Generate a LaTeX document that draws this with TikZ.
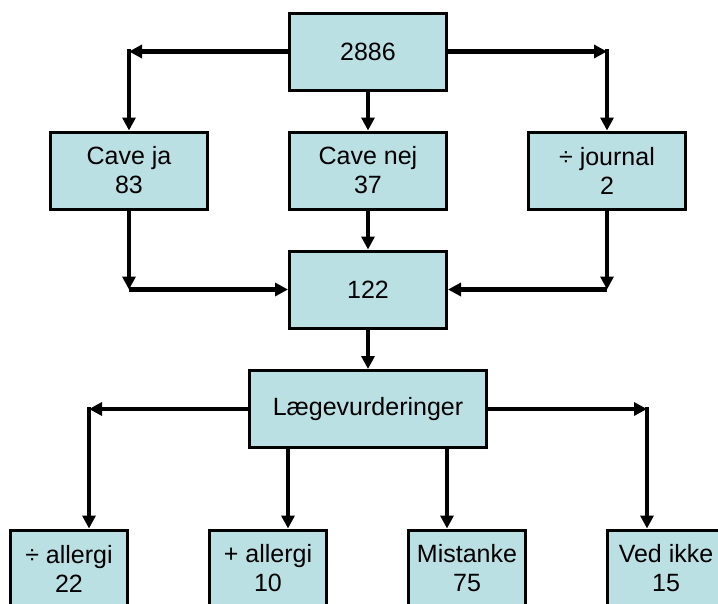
\documentclass[tikz,border=0pt]{standalone}
\usepackage{fontspec}
\setmainfont{Liberation Sans}
\usetikzlibrary{arrows.meta}
\definecolor{boxfill}{HTML}{BBE0E3}
\begin{document}
\begin{tikzpicture}[x=1pt,y=-1pt,
  box/.style={draw=black, line width=3pt, fill=boxfill, minimum width=157pt, minimum height=77pt,
    inner sep=0pt, align=center, font=\fontsize{25}{29}\selectfont},
  sbox/.style={box, minimum width=117pt},
  wbox/.style={box, minimum width=237pt},
  arr/.style={line width=4.5pt, -{Triangle[length=13pt,width=13pt]}}]
\useasboundingbox (0,0) rectangle (718,603);
% nodes
\node[box] (top) at (368,51.5) {2886};
\node[box] (cja) at (129,170.5) {Cave ja\\83};
\node[box] (cnej) at (368,170.5) {Cave nej\\37};
\node[box] (jour) at (607,170.5) {÷ journal\\2};
\node[box] (tot) at (368,289.5) {122};
\node[wbox] (laege) at (368,409) {Lægevurderinger};
\node[sbox] (b1) at (69,568.5) {÷ allergi\\22};
\node[sbox] (b2) at (268,568.5) {+ allergi\\10};
\node[sbox] (b3) at (467,568.5) {Mistanke\\75};
\node[sbox] (b4) at (666,568.5) {Ved ikke\\15};
% corners
\coordinate (c1) at (129,51.5);
\coordinate (c2) at (607,51.5);
\coordinate (c3) at (129,289.5);
\coordinate (c4) at (607,289.5);
\coordinate (c5) at (89,409);
\coordinate (c6) at (647,409);
\coordinate (d2) at (288,409);
\coordinate (d3) at (447,409);
% connectors
\draw[arr] (top.west) -- (c1);
\draw[arr] ([yshift=2.25pt]c1) -- (cja.north);
\draw[arr] (top.east) -- (c2);
\draw[arr] ([yshift=2.25pt]c2) -- (jour.north);
\draw[arr] (top.south) -- (cnej.north);
\draw[arr] (cja.south) -- (c3);
\draw[arr] (c3) -- (tot.west);
\draw[arr] (jour.south) -- (c4);
\draw[arr] (c4) -- (tot.east);
\draw[arr] (cnej.south) -- (tot.north);
\draw[arr] (tot.south) -- (laege.north);
\draw[arr] (laege.west) -- (c5);
\draw[arr] ([yshift=2.25pt]c5) -- (c5 |- b1.north);
\draw[arr] (laege.east) -- (c6);
\draw[arr] ([yshift=2.25pt]c6) -- (c6 |- b4.north);
\draw[arr] (d2 |- laege.south) -- (d2 |- b2.north);
\draw[arr] (d3 |- laege.south) -- (d3 |- b3.north);
\end{tikzpicture}
\end{document}
